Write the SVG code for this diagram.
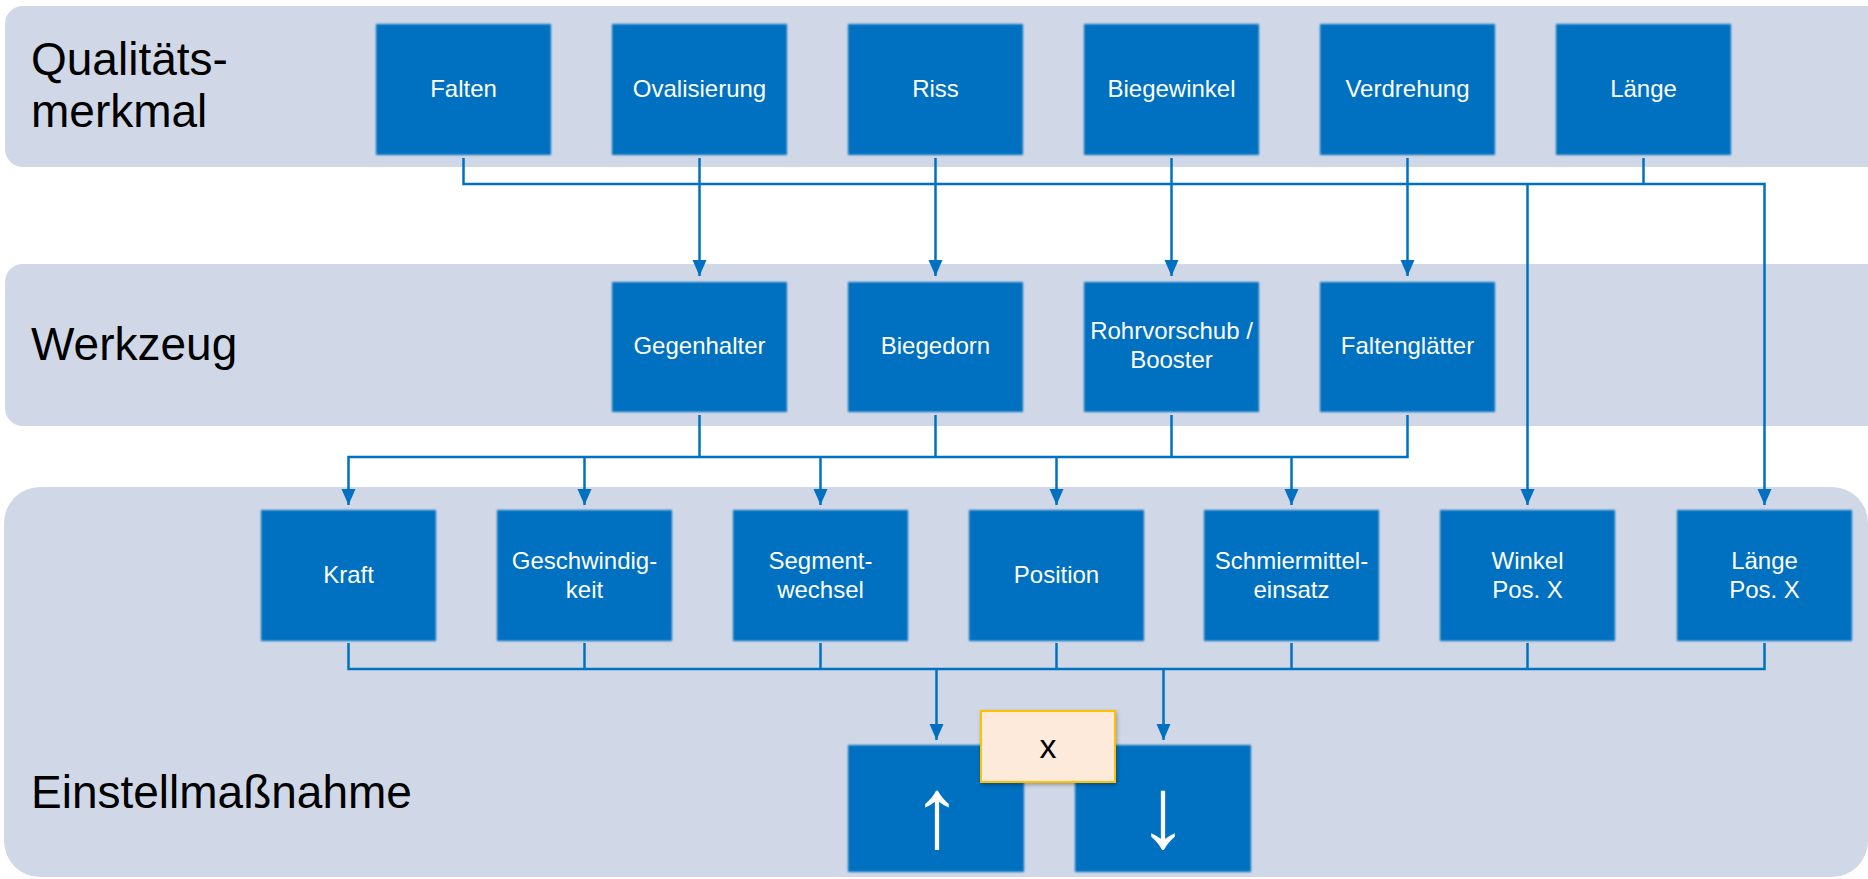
<svg xmlns="http://www.w3.org/2000/svg" width="1868" height="879" viewBox="0 0 1868 879">
<style>
.band{fill:#D0D8E7}
.box{fill:#0070C0}
.lbl{font-family:"Liberation Sans",Arial,sans-serif;font-size:24px;fill:#FFFFFF;text-anchor:middle}
.big{font-family:"Liberation Sans",Arial,sans-serif;font-size:46px;fill:#000000}
.con{fill:none;stroke:#0070C0;stroke-width:2.5}
.arr{font-family:"Liberation Sans",Arial,sans-serif;font-size:100px;fill:#FFFFFF;text-anchor:middle}
</style>
<defs>
<marker id="ah" viewBox="0 0 16 16" refX="16" refY="8" markerWidth="16" markerHeight="16" markerUnits="userSpaceOnUse" orient="auto">
<path d="M0,1 L16,8 L0,15 z" fill="#0070C0"/>
</marker>
<filter id="soft" x="-5%" y="-5%" width="110%" height="110%">
<feGaussianBlur stdDeviation="0.9"/>
</filter>
<filter id="sh" x="-10%" y="-10%" width="125%" height="130%">
<feDropShadow dx="1" dy="2" stdDeviation="2" flood-color="#000" flood-opacity="0.3"/>
</filter>
</defs>

<g id="bands">
<rect class="band" x="5" y="6" width="1880" height="161" rx="18"/>
<rect class="band" x="5" y="264" width="1880" height="162" rx="18"/>
<rect class="band" x="4" y="487" width="1864" height="390" rx="36"/>
</g>

<g id="lane-labels">
<text class="big" x="31" y="75">Qualitäts-</text>
<text class="big" x="31" y="127">merkmal</text>
<text class="big" x="31" y="360">Werkzeug</text>
<text class="big" x="31" y="808">Einstellmaßnahme</text>
</g>

<g id="connectors">
<path class="con" d="M463.5,158 V184 H1764.5 V505" marker-end="url(#ah)"/>
<path class="con" d="M1527.5,184 V505" marker-end="url(#ah)"/>
<path class="con" d="M1643.5,158 V184"/>
<path class="con" d="M699.5,158 V276" marker-end="url(#ah)"/>
<path class="con" d="M935.5,158 V276" marker-end="url(#ah)"/>
<path class="con" d="M1171.5,158 V276" marker-end="url(#ah)"/>
<path class="con" d="M1407.5,158 V276" marker-end="url(#ah)"/>
<path class="con" d="M699.5,415 V457"/>
<path class="con" d="M935.5,415 V457"/>
<path class="con" d="M1171.5,415 V457"/>
<path class="con" d="M1407.5,415 V457 H348.5 V505" marker-end="url(#ah)"/>
<path class="con" d="M584.5,457 V505" marker-end="url(#ah)"/>
<path class="con" d="M820.5,457 V505" marker-end="url(#ah)"/>
<path class="con" d="M1056.5,457 V505" marker-end="url(#ah)"/>
<path class="con" d="M1291.5,457 V505" marker-end="url(#ah)"/>
<path class="con" d="M348.5,643 V669 H1764.5 V643"/>
<path class="con" d="M584.5,643 V669"/>
<path class="con" d="M820.5,643 V669"/>
<path class="con" d="M1056.5,643 V669"/>
<path class="con" d="M1291.5,643 V669"/>
<path class="con" d="M1527.5,643 V669"/>
<path class="con" d="M936.5,669 V740" marker-end="url(#ah)"/>
<path class="con" d="M1163.5,669 V740" marker-end="url(#ah)"/>
</g>

<g id="n-falten"><rect class="box" filter="url(#soft)" x="376" y="24" width="175" height="131"/><text class="lbl" x="463.5" y="97">Falten</text></g>
<g id="n-ovalisierung"><rect class="box" filter="url(#soft)" x="612" y="24" width="175" height="131"/><text class="lbl" x="699.5" y="97">Ovalisierung</text></g>
<g id="n-riss"><rect class="box" filter="url(#soft)" x="848" y="24" width="175" height="131"/><text class="lbl" x="935.5" y="97">Riss</text></g>
<g id="n-biegewinkel"><rect class="box" filter="url(#soft)" x="1084" y="24" width="175" height="131"/><text class="lbl" x="1171.5" y="97">Biegewinkel</text></g>
<g id="n-verdrehung"><rect class="box" filter="url(#soft)" x="1320" y="24" width="175" height="131"/><text class="lbl" x="1407.5" y="97">Verdrehung</text></g>
<g id="n-laenge"><rect class="box" filter="url(#soft)" x="1556" y="24" width="175" height="131"/><text class="lbl" x="1643.5" y="97">Länge</text></g>

<g id="n-gegenhalter"><rect class="box" filter="url(#soft)" x="612" y="282" width="175" height="130"/><text class="lbl" x="699.5" y="354">Gegenhalter</text></g>
<g id="n-biegedorn"><rect class="box" filter="url(#soft)" x="848" y="282" width="175" height="130"/><text class="lbl" x="935.5" y="354">Biegedorn</text></g>
<g id="n-rohrvorschub"><rect class="box" filter="url(#soft)" x="1084" y="282" width="175" height="130"/><text class="lbl" x="1171.5" y="339">Rohrvorschub /</text><text class="lbl" x="1171.5" y="368">Booster</text></g>
<g id="n-faltenglaetter"><rect class="box" filter="url(#soft)" x="1320" y="282" width="175" height="130"/><text class="lbl" x="1407.5" y="354">Faltenglätter</text></g>

<g id="n-kraft"><rect class="box" filter="url(#soft)" x="261" y="510" width="175" height="131"/><text class="lbl" x="348.5" y="583">Kraft</text></g>
<g id="n-geschwindigkeit"><rect class="box" filter="url(#soft)" x="497" y="510" width="175" height="131"/><text class="lbl" x="584.5" y="569">Geschwindig-</text><text class="lbl" x="584.5" y="598">keit</text></g>
<g id="n-segmentwechsel"><rect class="box" filter="url(#soft)" x="733" y="510" width="175" height="131"/><text class="lbl" x="820.5" y="569">Segment-</text><text class="lbl" x="820.5" y="598">wechsel</text></g>
<g id="n-position"><rect class="box" filter="url(#soft)" x="969" y="510" width="175" height="131"/><text class="lbl" x="1056.5" y="583">Position</text></g>
<g id="n-schmiermittel"><rect class="box" filter="url(#soft)" x="1204" y="510" width="175" height="131"/><text class="lbl" x="1291.5" y="569">Schmiermittel-</text><text class="lbl" x="1291.5" y="598">einsatz</text></g>
<g id="n-winkel"><rect class="box" filter="url(#soft)" x="1440" y="510" width="175" height="131"/><text class="lbl" x="1527.5" y="569">Winkel</text><text class="lbl" x="1527.5" y="598">Pos. X</text></g>
<g id="n-laengepos"><rect class="box" filter="url(#soft)" x="1677" y="510" width="175" height="131"/><text class="lbl" x="1764.5" y="569">Länge</text><text class="lbl" x="1764.5" y="598">Pos. X</text></g>

<g id="n-up"><rect class="box" filter="url(#soft)" x="848" y="745" width="176" height="127"/><text class="arr" x="937" y="847">↑</text></g>
<g id="n-down"><rect class="box" filter="url(#soft)" x="1075" y="745" width="176" height="127"/><text class="arr" x="1163" y="847">↓</text></g>
<g id="n-x"><rect x="981" y="711" width="134" height="71" fill="#FDEADA" stroke="#FFC000" stroke-width="2" filter="url(#sh)"/><text x="1048" y="758" font-family="Liberation Sans,Arial,sans-serif" font-size="34" fill="#000" text-anchor="middle">x</text></g>
</svg>
